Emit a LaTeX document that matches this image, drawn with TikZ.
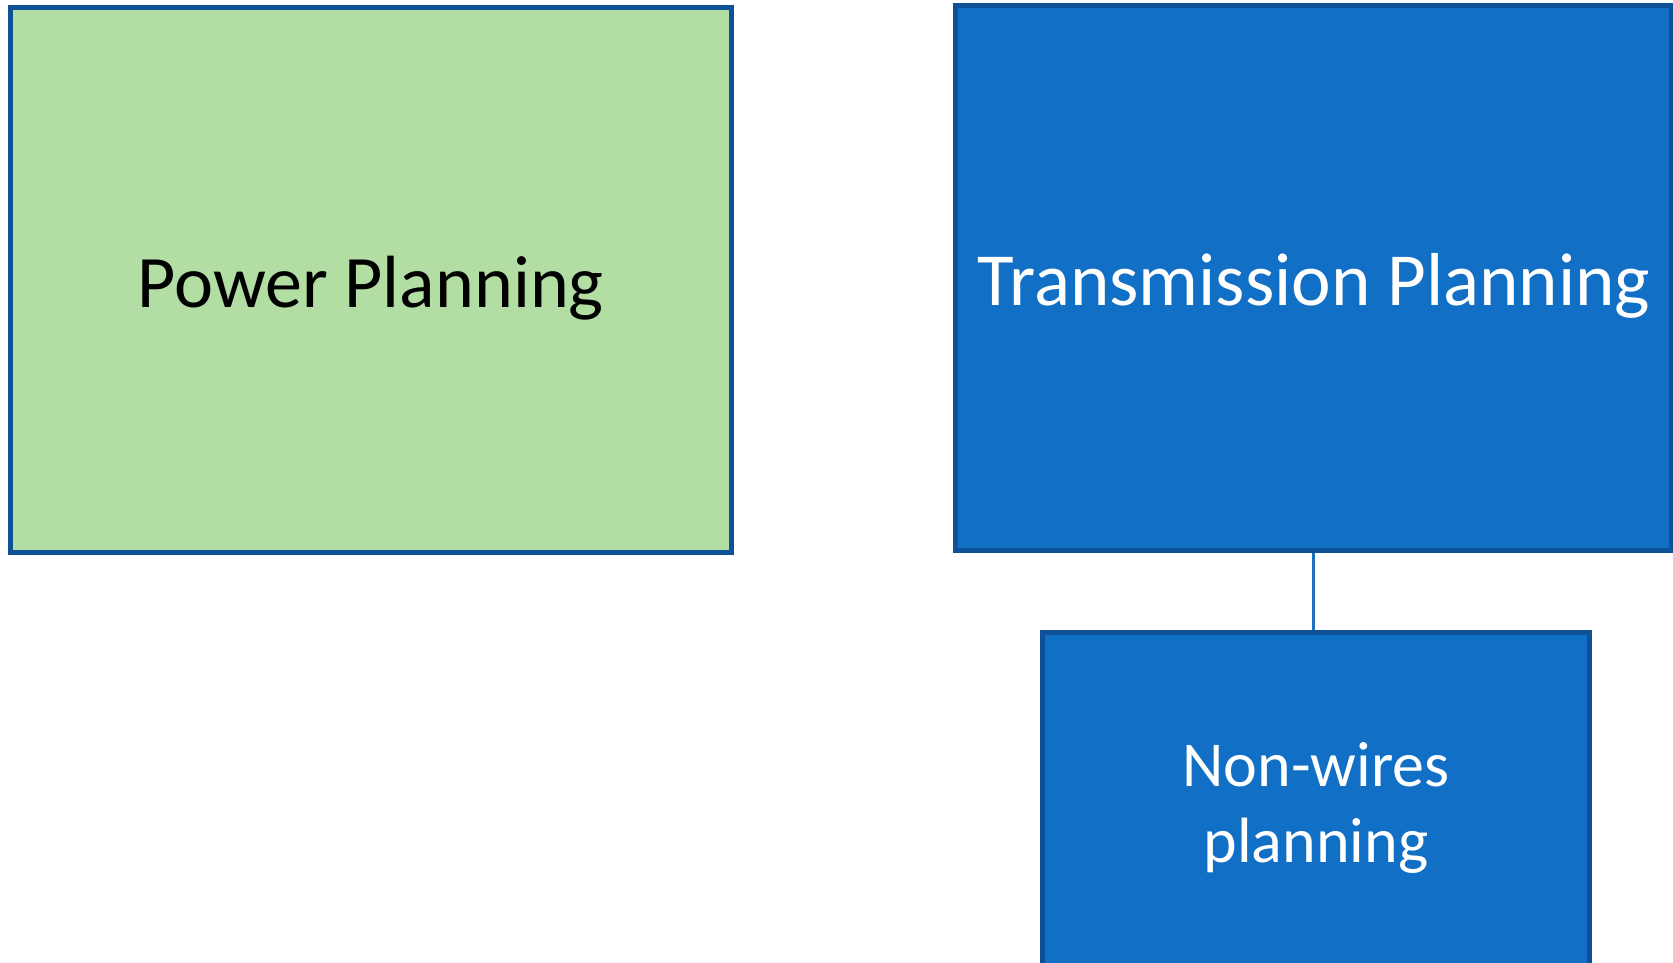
\documentclass[tikz,border=0pt]{standalone}
\usepackage{fontspec}
\setmainfont{Carlito}
\definecolor{greenfill}{HTML}{B2DEA3}
\definecolor{bluefill}{HTML}{1170C6}
\definecolor{edgeblue}{HTML}{0E5196}
\definecolor{linkblue}{HTML}{1F6FC0}
\tikzset{
  box/.style={rectangle, draw=edgeblue, line width=5pt, inner sep=0pt},
  greenbox/.style={box, fill=greenfill},
  bluebox/.style={box, fill=bluefill},
  label/.style={inner sep=0pt, anchor=base},
  link/.style={draw=linkblue, line width=2.5pt}
}
\begin{document}
\begin{tikzpicture}[x=1pt,y=-1pt]
\useasboundingbox (0,0) rectangle (1673,963);
\clip (0,0) rectangle (1673,963);
\node[greenbox, minimum width=720.5pt, minimum height=544.5pt] (power) at (370.75,279.75) {};
\node[bluebox, minimum width=715.5pt, minimum height=544pt] (trans) at (1313.25,278) {};
\node[bluebox, minimum width=547pt, minimum height=336pt] (nonwires) at (1315.5,800) {};
\draw[link] (trans.south) -- (trans.south |- nonwires.north);
\node[label, text=black, font=\fontsize{74}{89}\selectfont] (powertext) at (370.7,307) {Power Planning};
\node[label, text=white, font=\fontsize{75}{90}\selectfont] (transtext) at (1314,305) {Transmission Planning};
\node[label, text=white, font=\fontsize{64}{77}\selectfont] (nwtext1) at (1316,786) {Non-wires};
\node[label, text=white, font=\fontsize{64}{77}\selectfont] (nwtext2) at (1316,862) {planning};
\end{tikzpicture}
\end{document}
